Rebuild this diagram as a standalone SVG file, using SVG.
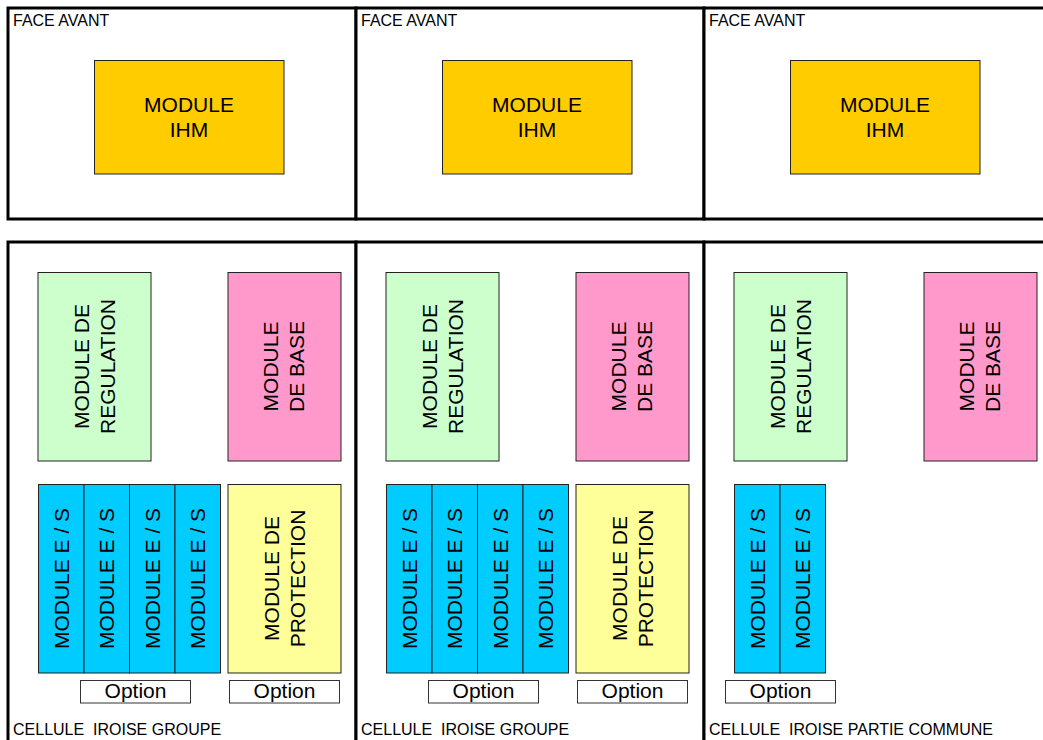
<svg xmlns="http://www.w3.org/2000/svg" width="1043" height="740" viewBox="0 0 1043 740">
<style>
text{font-family:"Liberation Sans",Arial,sans-serif;fill:#000}
.panel{fill:#fff;stroke:#000;stroke-width:3}
.box{stroke:#222;stroke-width:1}
.ihm{fill:#FFCC00}
.reg{fill:#CCFFCC}
.base{fill:#FF99CC}
.es{fill:#00CCFF}
.prot{fill:#FFFF99}
.opt{fill:#fff;stroke:#333;stroke-width:1}
.lbl{font-size:16px}
.big{font-size:21px;text-anchor:middle}
</style>
<rect width="1043" height="740" fill="#fff"/>
<g id="panels">
<rect class="panel" x="8" y="8" width="348" height="211"/>
<rect class="panel" x="356" y="8" width="348" height="211"/>
<rect class="panel" x="704" y="8" width="348" height="211"/>
<rect class="panel" x="8" y="242" width="348" height="510"/>
<rect class="panel" x="356" y="242" width="348" height="510"/>
<rect class="panel" x="704" y="242" width="348" height="510"/>
<text class="lbl" x="13" y="26">FACE AVANT</text>
<text class="lbl" x="361" y="26">FACE AVANT</text>
<text class="lbl" x="709" y="26">FACE AVANT</text>
<text class="lbl" x="13" y="735" xml:space="preserve">CELLULE  IROISE GROUPE</text>
<text class="lbl" x="361" y="735" xml:space="preserve">CELLULE  IROISE GROUPE</text>
<text class="lbl" x="709" y="735" xml:space="preserve">CELLULE  IROISE PARTIE COMMUNE</text>
</g>
<g id="ihm1"><rect class="box ihm" x="94.5" y="60.5" width="189.5" height="113.5"/><text class="big" x="189" y="111.5">MODULE<tspan x="189" y="137">IHM</tspan></text></g>
<g id="ihm2"><rect class="box ihm" x="442.5" y="60.5" width="189.5" height="113.5"/><text class="big" x="537" y="111.5">MODULE<tspan x="537" y="137">IHM</tspan></text></g>
<g id="ihm3"><rect class="box ihm" x="790.5" y="60.5" width="189.5" height="113.5"/><text class="big" x="885" y="111.5">MODULE<tspan x="885" y="137">IHM</tspan></text></g>

<g id="reg1"><rect class="box reg" x="38" y="272.5" width="113" height="188.5"/><text class="big" transform="translate(89,366.5) rotate(-90)">MODULE DE<tspan x="0" dy="26">REGULATION</tspan></text></g>
<g id="reg2"><rect class="box reg" x="386" y="272.5" width="113" height="188.5"/><text class="big" transform="translate(437,366.5) rotate(-90)">MODULE DE<tspan x="0" dy="26">REGULATION</tspan></text></g>
<g id="reg3"><rect class="box reg" x="734" y="272.5" width="113" height="188.5"/><text class="big" transform="translate(785,366.5) rotate(-90)">MODULE DE<tspan x="0" dy="26">REGULATION</tspan></text></g>

<g id="base1"><rect class="box base" x="228" y="272.5" width="113" height="188.5"/><text class="big" transform="translate(278,366.5) rotate(-90)">MODULE<tspan x="0" dy="26">DE BASE</tspan></text></g>
<g id="base2"><rect class="box base" x="576" y="272.5" width="113" height="188.5"/><text class="big" transform="translate(626,366.5) rotate(-90)">MODULE<tspan x="0" dy="26">DE BASE</tspan></text></g>
<g id="base3"><rect class="box base" x="924" y="272.5" width="113" height="188.5"/><text class="big" transform="translate(974,366.5) rotate(-90)">MODULE<tspan x="0" dy="26">DE BASE</tspan></text></g>

<g id="es1a"><rect class="box es" x="38.5" y="484.5" width="45.5" height="188.5"/><text class="big" transform="translate(68.5,578.5) rotate(-90)">MODULE E / S</text></g>
<g id="es1b"><rect class="box es" x="84" y="484.5" width="45.5" height="188.5"/><text class="big" transform="translate(114,578.5) rotate(-90)">MODULE E / S</text></g>
<g id="es1c"><rect class="box es" x="129.5" y="484.5" width="45.5" height="188.5"/><text class="big" transform="translate(159.5,578.5) rotate(-90)">MODULE E / S</text></g>
<g id="es1d"><rect class="box es" x="175" y="484.5" width="45.5" height="188.5"/><text class="big" transform="translate(205,578.5) rotate(-90)">MODULE E / S</text></g>

<g id="es2a"><rect class="box es" x="386.5" y="484.5" width="45.5" height="188.5"/><text class="big" transform="translate(416.5,578.5) rotate(-90)">MODULE E / S</text></g>
<g id="es2b"><rect class="box es" x="432" y="484.5" width="45.5" height="188.5"/><text class="big" transform="translate(462,578.5) rotate(-90)">MODULE E / S</text></g>
<g id="es2c"><rect class="box es" x="477.5" y="484.5" width="45.5" height="188.5"/><text class="big" transform="translate(507.5,578.5) rotate(-90)">MODULE E / S</text></g>
<g id="es2d"><rect class="box es" x="523" y="484.5" width="45.5" height="188.5"/><text class="big" transform="translate(553,578.5) rotate(-90)">MODULE E / S</text></g>

<g id="es3a"><rect class="box es" x="734.5" y="484.5" width="45.5" height="188.5"/><text class="big" transform="translate(764.5,578.5) rotate(-90)">MODULE E / S</text></g>
<g id="es3b"><rect class="box es" x="780" y="484.5" width="45.5" height="188.5"/><text class="big" transform="translate(810,578.5) rotate(-90)">MODULE E / S</text></g>

<g id="prot1"><rect class="box prot" x="228" y="484.5" width="113" height="188.5"/><text class="big" transform="translate(279,578.5) rotate(-90)">MODULE DE<tspan x="0" dy="25.5">PROTECTION</tspan></text></g>
<g id="prot2"><rect class="box prot" x="576" y="484.5" width="113" height="188.5"/><text class="big" transform="translate(627,578.5) rotate(-90)">MODULE DE<tspan x="0" dy="25.5">PROTECTION</tspan></text></g>

<g id="opt1a"><rect class="opt" x="80.5" y="680.5" width="110" height="22.5"/><text class="big" x="135.5" y="698">Option</text></g>
<g id="opt1b"><rect class="opt" x="229.5" y="680.5" width="110" height="22.5"/><text class="big" x="284.5" y="698">Option</text></g>
<g id="opt2a"><rect class="opt" x="428.5" y="680.5" width="110" height="22.5"/><text class="big" x="483.5" y="698">Option</text></g>
<g id="opt2b"><rect class="opt" x="577.5" y="680.5" width="110" height="22.5"/><text class="big" x="632.5" y="698">Option</text></g>
<g id="opt3a"><rect class="opt" x="725.5" y="680.5" width="110" height="22.5"/><text class="big" x="780.5" y="698">Option</text></g>
<g id="connectors"/>
</svg>
